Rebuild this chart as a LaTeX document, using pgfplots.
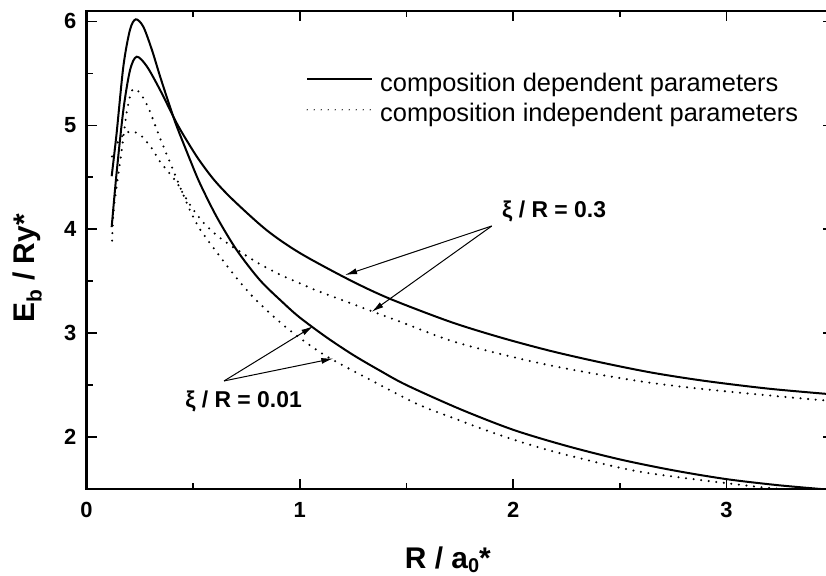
\documentclass[border=0pt]{standalone}
\usepackage{fontspec}
\setmainfont{Liberation Sans}
\usepackage{pgfplots}
\pgfplotsset{compat=1.18}
\usetikzlibrary{arrows.meta}

% binding energy curves
\pgfplotstableread{
x y
0.118 4.51
0.141 4.92
0.173 5.57
0.204 5.92
0.231 6.02
0.266 5.95
0.306 5.73
0.345 5.47
0.391 5.18
0.423 4.99
0.485 4.67
0.532 4.44
0.610 4.12
0.704 3.80
0.813 3.51
0.923 3.29
1.000 3.15
1.125 2.96
1.250 2.79
1.375 2.64
1.500 2.50
1.750 2.27
2.000 2.07
2.250 1.915
2.500 1.785
2.750 1.68
3.000 1.595
3.250 1.535
3.500 1.49
}\depA
\pgfplotstableread{
x y
0.118 4.02
0.141 4.54
0.173 5.15
0.204 5.53
0.235 5.66
0.282 5.57
0.345 5.34
0.423 5.02
0.480 4.82
0.530 4.66
0.600 4.47
0.688 4.28
0.845 3.99
1.001 3.77
1.235 3.51
1.423 3.33
1.704 3.11
1.938 2.96
2.173 2.83
2.407 2.72
2.650 2.62
2.900 2.54
3.200 2.465
3.500 2.41
}\depB
\pgfplotstableread{
x y
0.120 3.89
0.126 4.15
0.141 4.41
0.157 4.64
0.173 4.89
0.188 5.12
0.204 5.28
0.220 5.35
0.251 5.31
0.290 5.17
0.329 4.96
0.352 4.84
0.406 4.57
0.454 4.33
0.490 4.16
0.532 4.00
0.610 3.78
0.688 3.57
0.766 3.38
0.845 3.22
0.939 3.05
1.063 2.86
1.157 2.74
1.331 2.55
1.548 2.32
1.723 2.18
1.950 2.01
2.190 1.86
2.533 1.69
2.750 1.62
3.000 1.556
3.200 1.51
3.450 1.47
}\indA
\pgfplotstableread{
x y
0.120 4.70
0.150 4.85
0.180 4.92
0.212 4.94
0.251 4.91
0.282 4.84
0.306 4.78
0.345 4.65
0.376 4.57
0.423 4.45
0.454 4.34
0.500 4.19
0.550 4.06
0.600 3.96
0.650 3.88
0.700 3.81
0.800 3.68
0.900 3.57
1.000 3.48
1.079 3.41
1.235 3.29
1.345 3.205
1.470 3.11
1.704 2.93
1.938 2.80
2.173 2.69
2.407 2.60
2.650 2.52
2.900 2.46
3.200 2.40
3.500 2.345
}\indB

\begin{document}
\begin{tikzpicture}
\useasboundingbox (0,0) rectangle (826bp,576bp);
\begin{axis}[
  at={(86.5bp,87bp)}, anchor=south west,
  scale only axis, width=746.6bp, height=478bp,
  xmin=0, xmax=3.5, ymin=1.5, ymax=6.1,
  xtick={0,1,2,3}, ytick={2,3,4,5,6},
  minor x tick num=1, minor y tick num=1,
  tick align=inside,
  major tick length=10bp, minor tick length=6bp,
  axis line style={line width=2bp},
  every tick/.style={line width=1.6bp, black},
  every minor tick/.style={line width=1.6bp, black},
  /pgf/number format/assume math mode=true,
  tick label style={font=\fontsize{22}{22}\selectfont\bfseries, inner sep=0pt},
  xticklabel style={yshift=-13bp},
  yticklabel style={xshift=-10bp},
  xlabel={R / a\raisebox{-4.5bp}{\fontsize{20}{20}\selectfont 0}*},
  ylabel={E\textsubscript{b} / Ry*},
  xlabel style={font=\fontsize{30}{30}\selectfont\bfseries, inner sep=0pt,
    at={(axis description cs:0.484,-0.1653)}, anchor=base},
  ylabel style={font=\fontsize{30}{30}\selectfont\bfseries, inner sep=0pt,
    at={(axis description cs:-0.069,0.462)}, anchor=base},
  legend style={draw=none, fill=none, at={(0.294,0.8715)}, anchor=north west,
    font=\fontsize{25.5}{30}\selectfont, inner sep=0pt, row sep=10.8bp,
    column sep=7bp, nodes={inner sep=0pt}},
  legend cell align=left,
  legend image code/.code={\draw[#1] (0bp,3.5bp) -- (65bp,3.5bp);},
  solidc/.style={black, line width=2bp, smooth},
  dotc/.style={black, line width=2.3bp, line cap=round, dash pattern=on 0bp off 7.6bp, smooth},
]
\addlegendimage{black, line width=2bp}
\addlegendentry{composition dependent parameters}
\addlegendimage{black, line width=1.4bp, line cap=round, dash pattern=on 0bp off 7bp}
\addlegendentry{composition independent parameters}

\addplot[solidc, forget plot] table {\depA};
\addplot[solidc, forget plot] table {\depB};
\addplot[dotc, forget plot] table {\indA};
\addplot[dotc, forget plot] table {\indB};

\node[anchor=base west, inner sep=0pt, font=\fontsize{23}{23}\selectfont\bfseries]
  at (axis cs:1.948,4.108) {ξ / R = 0.3};
\node[anchor=base west, inner sep=0pt, font=\fontsize{23}{23}\selectfont\bfseries]
  at (axis cs:0.462,2.286) {ξ / R = 0.01};
\draw[line width=1bp, -{Latex[length=12bp,width=6bp]}] (axis cs:1.900,4.031) -- (axis cs:1.212,3.559);
\draw[line width=1bp, -{Latex[length=12bp,width=6bp]}] (axis cs:1.900,4.031) -- (axis cs:1.337,3.205);
\draw[line width=1bp, -{Latex[length=12bp,width=6bp]}] (axis cs:0.645,2.540) -- (axis cs:1.063,3.067);
\draw[line width=1bp, -{Latex[length=12bp,width=6bp]}] (axis cs:0.645,2.540) -- (axis cs:1.157,2.756);
\end{axis}
\end{tikzpicture}
\end{document}
